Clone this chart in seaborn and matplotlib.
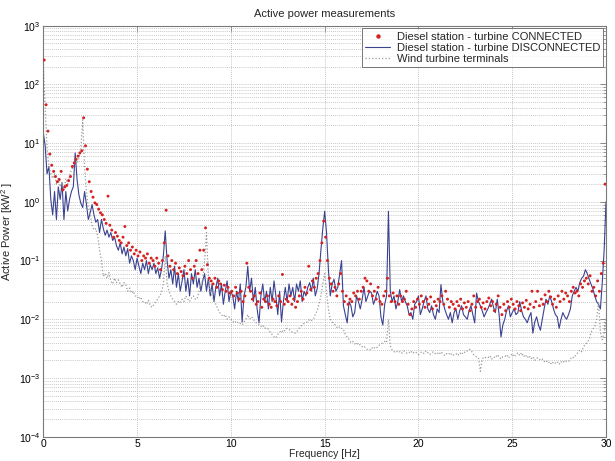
import numpy as np
import pandas as pd
import matplotlib
matplotlib.use("Agg")
import matplotlib.pyplot as plt
from matplotlib.lines import Line2D
from matplotlib.ticker import NullFormatter, FixedLocator
import seaborn as sns

# ---------------- data ----------------
title = "Active power measurements"
x_label = "Frequency [Hz]"
y_label = "Active Power [kW$^2$ ]"
series_names = ["Diesel station - turbine CONNECTED",
                "Diesel station - turbine DISCONNECTED",
                "Wind turbine terminals"]
x_ticks = [0, 5, 10, 15, 20, 25, 30]
y_decades = [-4, -3, -2, -1, 0, 1, 2, 3]

# frequency axis, 0.1 Hz resolution
freq_line = np.round(np.arange(0, 301) * 0.1, 2)          # 0.0 ... 30.0
freq_dots = np.round(0.05 + np.arange(0, 300) * 0.1, 2)   # 0.05 ... 29.95

connected = [
    260, 45, 16, 6.5, 4.2, 3.3, 2.7, 2.2, 2.4, 3.3,
    1.6, 1.8, 1.9, 2.3, 2.7, 4.0, 4.6, 5.3, 6.0, 6.8,
    7.4, 27, 9.0, 3.6, 2.2, 1.5, 1.2, 0.96, 0.9, 0.75,
    0.65, 0.6, 0.5, 0.43, 1.25, 0.4, 0.33, 0.25, 0.3, 0.26,
    0.22, 0.2, 0.25, 0.38, 0.18, 0.2, 0.15, 0.17, 0.13, 0.15,
    0.12, 0.14, 0.1, 0.12, 0.11, 0.13, 0.09, 0.11, 0.1, 0.08,
    0.11, 0.09, 0.07, 0.1, 0.2, 0.72, 0.12, 0.08, 0.1, 0.07,
    0.09, 0.06, 0.075, 0.065, 0.055, 0.08, 0.06, 0.1, 0.07, 0.05,
    0.08, 0.1, 0.06, 0.15, 0.07, 0.15, 0.36, 0.085, 0.05, 0.045,
    0.04, 0.05, 0.035, 0.045, 0.04, 0.032, 0.038, 0.03, 0.035, 0.028,
    0.03, 0.025, 0.035, 0.028, 0.022, 0.03, 0.02, 0.025, 0.09, 0.035,
    0.03, 0.022, 0.025, 0.018, 0.02, 0.028, 0.016, 0.022, 0.02, 0.025,
    0.018, 0.016, 0.022, 0.02, 0.017, 0.025, 0.02, 0.058, 0.018, 0.022,
    0.02, 0.025, 0.018, 0.022, 0.016, 0.02, 0.025, 0.03, 0.022, 0.035,
    0.028, 0.08, 0.032, 0.045, 0.035, 0.05, 0.06, 0.1, 0.2, 0.47,
    0.25, 0.1, 0.05, 0.04, 0.03, 0.035, 0.025, 0.04, 0.06, 0.03,
    0.02, 0.025, 0.018, 0.022, 0.02, 0.028, 0.025, 0.03, 0.022, 0.03,
    0.035, 0.05, 0.045, 0.03, 0.04, 0.025, 0.03, 0.022, 0.035, 0.02,
    0.018, 0.025, 0.03, 0.05, 0.025, 0.02, 0.028, 0.02, 0.025, 0.018,
    0.025, 0.02, 0.022, 0.03, 0.018, 0.012, 0.015, 0.02, 0.016, 0.022,
    0.018, 0.025, 0.02, 0.016, 0.022, 0.018, 0.024, 0.015, 0.02, 0.017,
    0.022, 0.02, 0.025, 0.018, 0.03, 0.022, 0.016, 0.02, 0.018, 0.015,
    0.02, 0.017, 0.022, 0.015, 0.019, 0.016, 0.02, 0.014, 0.018, 0.025,
    0.016, 0.02, 0.022, 0.016, 0.019, 0.015, 0.02, 0.023, 0.017, 0.02,
    0.014, 0.018, 0.025, 0.016, 0.012, 0.018, 0.014, 0.02, 0.016, 0.022,
    0.018, 0.015, 0.02, 0.017, 0.014, 0.019, 0.016, 0.021, 0.015, 0.018,
    0.03, 0.016, 0.02, 0.03, 0.017, 0.022, 0.018, 0.026, 0.02, 0.03,
    0.024, 0.018, 0.022, 0.016, 0.025, 0.02, 0.03, 0.022, 0.028, 0.025,
    0.02, 0.03, 0.035, 0.028, 0.03, 0.025, 0.04, 0.035, 0.045, 0.05,
    0.04, 0.055, 0.03, 0.035, 0.025, 0.045, 0.03, 0.06, 0.09, 2.0,
]

disconnected = [
    15, 9, 3.0, 4.0, 1.1, 0.6, 1.5, 0.5, 1.8, 1.1,
    2.1, 0.5, 1.5, 0.7, 1.1, 1.5, 1.8, 6.8, 2.4, 1.3,
    0.95, 0.8, 1.5, 0.9, 0.5, 0.65, 0.9, 0.6, 0.45, 0.5,
    0.3, 0.5, 0.35, 0.27, 0.33, 0.25, 0.3, 0.22, 0.25, 0.18,
    0.15, 0.2, 0.13, 0.17, 0.12, 0.16, 0.09, 0.12, 0.1, 0.07,
    0.11, 0.08, 0.06, 0.09, 0.07, 0.1, 0.06, 0.085, 0.07, 0.09,
    0.06, 0.075, 0.05, 0.07, 0.12, 0.32, 0.1, 0.05, 0.07, 0.04,
    0.08, 0.035, 0.06, 0.03, 0.045, 0.07, 0.03, 0.05, 0.025, 0.06,
    0.04, 0.07, 0.035, 0.05, 0.03, 0.045, 0.06, 0.03, 0.05, 0.025,
    0.04, 0.02, 0.035, 0.05, 0.025, 0.04, 0.018, 0.03, 0.045, 0.02,
    0.03, 0.025, 0.015, 0.03, 0.02, 0.04, 0.009, 0.025, 0.035, 0.08,
    0.03, 0.05, 0.02, 0.035, 0.015, 0.0087, 0.025, 0.04, 0.02, 0.03,
    0.015, 0.035, 0.02, 0.045, 0.025, 0.012, 0.03, 0.009, 0.02, 0.035,
    0.02, 0.04, 0.025, 0.035, 0.02, 0.04, 0.03, 0.045, 0.02, 0.03,
    0.025, 0.035, 0.042, 0.03, 0.05, 0.025, 0.033, 0.06, 0.15, 0.35,
    0.69, 0.3, 0.07, 0.025, 0.04, 0.048, 0.03, 0.035, 0.06, 0.1,
    0.017, 0.012, 0.0087, 0.02, 0.017, 0.011, 0.013, 0.025, 0.02, 0.015,
    0.022, 0.035, 0.02, 0.025, 0.03, 0.028, 0.018, 0.022, 0.03, 0.025,
    0.011, 0.008, 0.018, 0.025, 0.69, 0.03, 0.02, 0.025, 0.015, 0.02,
    0.032, 0.02, 0.025, 0.02, 0.017, 0.012, 0.013, 0.01, 0.018, 0.02,
    0.025, 0.012, 0.015, 0.02, 0.025, 0.015, 0.013, 0.017, 0.012, 0.01,
    0.015, 0.013, 0.039, 0.02, 0.015, 0.012, 0.01, 0.013, 0.0087, 0.013,
    0.015, 0.01, 0.014, 0.017, 0.012, 0.011, 0.01, 0.014, 0.017, 0.012,
    0.0087, 0.028, 0.02, 0.017, 0.014, 0.011, 0.013, 0.015, 0.018, 0.022,
    0.016, 0.013, 0.022, 0.012, 0.005, 0.008, 0.01, 0.014, 0.017, 0.011,
    0.013, 0.015, 0.012, 0.013, 0.02, 0.014, 0.011, 0.01, 0.0087, 0.011,
    0.013, 0.0058, 0.009, 0.011, 0.008, 0.0065, 0.01, 0.015, 0.022, 0.018,
    0.025, 0.02, 0.015, 0.012, 0.011, 0.007, 0.01, 0.013, 0.011, 0.01,
    0.012, 0.015, 0.025, 0.03, 0.035, 0.03, 0.042, 0.05, 0.054, 0.07,
    0.06, 0.048, 0.04, 0.033, 0.025, 0.02, 0.018, 0.015, 0.042, 0.15,
    1.0,
]

wind_terminals = [
    250, 40, 8, 4, 3, 2.5, 3, 2, 2.5, 1.8,
    2.2, 1.6, 2.5, 2, 2.8, 3.5, 4, 5, 4.5, 5.5,
    8, 25, 4, 1.5, 0.8, 0.6, 0.4, 0.33, 0.35, 0.26,
    0.15, 0.1, 0.054, 0.06, 0.05, 0.062, 0.045, 0.04, 0.05, 0.042,
    0.047, 0.04, 0.035, 0.042, 0.039, 0.03, 0.034, 0.028, 0.03, 0.025,
    0.025, 0.022, 0.024, 0.02, 0.02, 0.018, 0.021, 0.017, 0.016, 0.018,
    0.02, 0.022, 0.025, 0.028, 0.04, 0.12, 0.04, 0.03, 0.025, 0.022,
    0.02, 0.018, 0.02, 0.019, 0.022, 0.02, 0.025, 0.022, 0.02, 0.023,
    0.025, 0.022, 0.022, 0.03, 0.04, 0.045, 0.1, 0.3, 0.05, 0.03,
    0.025, 0.02, 0.018, 0.015, 0.013, 0.012, 0.011, 0.012, 0.01, 0.011,
    0.01, 0.009, 0.0095, 0.0085, 0.009, 0.0085, 0.008, 0.009, 0.01, 0.012,
    0.01, 0.011, 0.01, 0.009, 0.0085, 0.008, 0.0075, 0.008, 0.007, 0.0072,
    0.0068, 0.006, 0.0055, 0.005, 0.0048, 0.0055, 0.006, 0.0065, 0.006, 0.0068,
    0.007, 0.0068, 0.0062, 0.006, 0.0058, 0.006, 0.0068, 0.0075, 0.008, 0.0085,
    0.0088, 0.009, 0.01, 0.0095, 0.01, 0.012, 0.014, 0.018, 0.025, 0.04,
    0.06, 0.03, 0.015, 0.01, 0.009, 0.0085, 0.0076, 0.007, 0.0075, 0.007,
    0.0067, 0.0055, 0.005, 0.0045, 0.004, 0.0042, 0.0038, 0.004, 0.0036, 0.0037,
    0.0034, 0.0035, 0.0032, 0.003, 0.003, 0.0033, 0.0031, 0.0034, 0.0033, 0.0036,
    0.0038, 0.004, 0.0042, 0.004, 0.01, 0.0035, 0.003, 0.0028, 0.0027, 0.0029,
    0.0028, 0.0026, 0.0029, 0.0028, 0.0026, 0.0027, 0.0029, 0.0026, 0.0028, 0.0027,
    0.0025, 0.0027, 0.0028, 0.0026, 0.0029, 0.0027, 0.0025, 0.0027, 0.0028, 0.0026,
    0.0027, 0.0025, 0.0028, 0.0026, 0.0024, 0.0026, 0.0025, 0.0027, 0.0024, 0.0025,
    0.0026, 0.0024, 0.0027, 0.0025, 0.0028, 0.0027, 0.0029, 0.0031, 0.003, 0.0026,
    0.0024, 0.0023, 0.0022, 0.0013, 0.0021, 0.0023, 0.0022, 0.0022, 0.0024, 0.0021,
    0.0023, 0.0022, 0.0025, 0.0023, 0.0021, 0.0023, 0.0023, 0.0025, 0.0022, 0.0024,
    0.0026, 0.0023, 0.0025, 0.0027, 0.0024, 0.0027, 0.0023, 0.0025, 0.0022, 0.0024,
    0.0021, 0.0023, 0.002, 0.0022, 0.0022, 0.002, 0.0021, 0.0019, 0.002, 0.0018,
    0.0019, 0.0017, 0.0019, 0.0018, 0.0019, 0.0017, 0.0019, 0.0018, 0.002, 0.0019,
    0.0019, 0.0021, 0.0023, 0.0022, 0.0025, 0.0027, 0.003, 0.0028, 0.0034, 0.0038,
    0.004, 0.0045, 0.006, 0.0068, 0.0076, 0.01, 0.02, 0.006, 0.0045, 0.006,
    0.01,
]

# ---------------- styling ----------------
sns.set_theme(style="white")
plt.rcParams["font.family"] = ["Liberation Sans", "DejaVu Sans"]
plt.rcParams["mathtext.fontset"] = "custom"
plt.rcParams["mathtext.rm"] = "Liberation Sans"
plt.rcParams["mathtext.it"] = "Liberation Sans"

red_c = "#d42222"
blue_c = "#3b4290"
grey_c = "#9a9a9a"

df_dots = pd.DataFrame({"f": freq_dots, "p": connected})
df_blue = pd.DataFrame({"f": freq_line, "p": disconnected})
df_grey = pd.DataFrame({"f": freq_line, "p": wind_terminals})

fig = plt.figure(figsize=(6.15, 4.61), dpi=100)
ax = fig.add_axes([0.0704, 0.0527, 0.915, 0.8916])

sns.scatterplot(data=df_dots, x="f", y="p", ax=ax, color=red_c, s=4.5,
                edgecolor="none", linewidth=0, zorder=3, legend=False)
sns.lineplot(data=df_blue, x="f", y="p", ax=ax, color=blue_c, lw=0.8,
             estimator=None, zorder=2, legend=False)
sns.lineplot(data=df_grey, x="f", y="p", ax=ax, color=grey_c, lw=0.9,
             linestyle=":", estimator=None, zorder=2.5, legend=False)

ax.set_yscale("log")
ax.set_xlim(0, 30)
ax.set_ylim(1e-4, 1e3)
ax.xaxis.set_major_locator(FixedLocator(x_ticks))
ax.set_xticklabels([str(t) for t in x_ticks])
major_y = [10.0 ** d for d in y_decades]
minor_y = [m * 10.0 ** d for d in y_decades[:-1] for m in range(2, 10)]
ax.yaxis.set_major_locator(FixedLocator(major_y))
ax.set_yticklabels([f"$10^{{{d}}}$" for d in y_decades])
ax.yaxis.set_minor_locator(FixedLocator(minor_y))
ax.yaxis.set_minor_formatter(NullFormatter())

grid_kw = dict(color="#b4b4b4", linestyle=(0, (1, 1.5)), linewidth=0.6)
ax.grid(True, which="major", axis="both", **grid_kw)
ax.grid(True, which="minor", axis="y", **grid_kw)
ax.set_axisbelow(True)

for s in ax.spines.values():
    s.set_color("#7a7a7a")
    s.set_linewidth(0.8)
ax.tick_params(axis="both", which="both", direction="in", top=True, right=True,
               colors="#7a7a7a", labelcolor="black", labelsize=7.5)
ax.tick_params(axis="both", which="major", length=4, width=0.6)
ax.tick_params(axis="y", which="minor", length=2, width=0.5)
ax.tick_params(axis="x", which="major", pad=2)
ax.tick_params(axis="y", which="major", pad=2)

ax.set_title(title, fontsize=8, pad=6)
ax.set_xlabel(x_label, fontsize=7.5)
ax.set_ylabel(y_label, fontsize=8)
ax.xaxis.set_label_coords(0.5, -0.031)
ax.yaxis.set_label_coords(-0.05, 0.5)

handles = [
    Line2D([], [], color=red_c, marker="o", markersize=2.2, linestyle="none"),
    Line2D([], [], color=blue_c, lw=0.8),
    Line2D([], [], color=grey_c, lw=0.9, linestyle=":"),
]
leg = ax.legend(handles, series_names, loc="upper right", fontsize=8,
                frameon=True, fancybox=False, borderpad=0.3, labelspacing=0.1,
                handlelength=2.2, handletextpad=0.6, borderaxespad=0.25)
leg.get_frame().set_edgecolor("#555555")
leg.get_frame().set_linewidth(0.7)

fig.savefig("out.png", dpi=100)
